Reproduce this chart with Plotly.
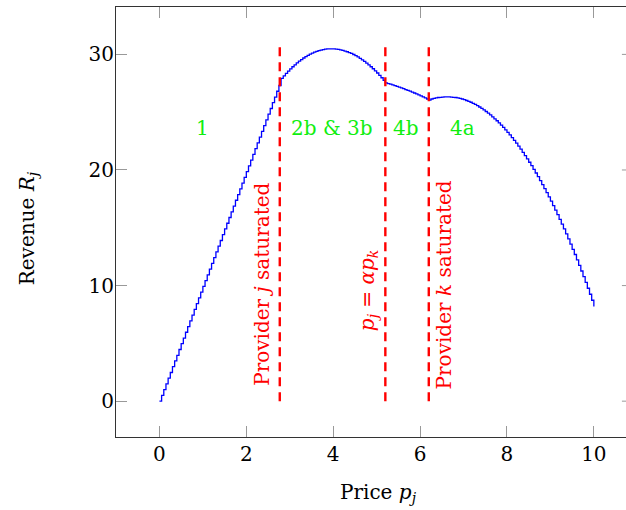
''' Revenue of provider j against its price, with the regime boundaries marked '''

import plotly.graph_objects as go

# Price grid (step 0.05) and the revenue
price = [round(0.05 * i, 2) for i in range(201)]
revenue = [
    # region 1 (0.00 - 2.75)
    0.0, 0.50, 0.99, 1.49, 1.99, 2.48, 2.98, 3.48, 3.97, 4.47,
    4.97, 5.46, 5.96, 6.45, 6.95, 7.45, 7.94, 8.44, 8.94, 9.43,
    9.93, 10.43, 10.92, 11.42, 11.92, 12.41, 12.91, 13.41, 13.90, 14.40,
    14.90, 15.39, 15.89, 16.38, 16.88, 17.38, 17.87, 18.37, 18.87, 19.36,
    19.86, 20.36, 20.85, 21.35, 21.85, 22.34, 22.84, 23.34, 23.83, 24.33,
    24.83, 25.32, 25.82, 26.31, 26.81, 27.31,
    # regions 2b & 3b (2.80 - 5.20)
    27.93, 28.15, 28.36, 28.56, 28.75, 28.93, 29.10, 29.26, 29.41, 29.54,
    29.69, 29.81, 29.92, 30.02, 30.11, 30.19, 30.26, 30.32, 30.37, 30.42,
    30.45, 30.47, 30.48, 30.48, 30.47, 30.45, 30.43, 30.39, 30.35, 30.29,
    30.23, 30.16, 30.08, 29.99, 29.89, 29.78, 29.66, 29.53, 29.40, 29.25,
    29.10, 28.93, 28.76, 28.58, 28.39, 28.18, 27.98, 27.76, 27.53,
    # region 4b (5.25 - 6.20)
    27.47, 27.42, 27.36, 27.30, 27.24, 27.17, 27.10, 27.03, 26.96, 26.89,
    26.82, 26.74, 26.66, 26.58, 26.50, 26.41, 26.32, 26.23, 26.14, 26.05,
    # region 4a (6.25 - 10.00)
    26.14, 26.19, 26.23, 26.27, 26.29, 26.31, 26.33, 26.33, 26.33, 26.31,
    26.29, 26.27, 26.23, 26.19, 26.14, 26.08, 26.01, 25.94, 25.86, 25.77,
    25.67, 25.56, 25.45, 25.33, 25.20, 25.06, 24.92, 24.76, 24.60, 24.43,
    24.26, 24.07, 23.88, 23.68, 23.47, 23.26, 23.03, 22.80, 22.56, 22.32,
    22.06, 21.80, 21.53, 21.25, 20.96, 20.67, 20.37, 20.06, 19.74, 19.42,
    19.08, 18.74, 18.39, 18.04, 17.67, 17.30, 16.92, 16.53, 16.13, 15.73,
    15.32, 14.90, 14.47, 14.04, 13.59, 13.14, 12.69, 12.22, 11.74, 11.26,
    10.77, 10.27, 9.77, 9.25, 8.73, 8.20,
]

# Vertical boundaries (price) and their rotated labels
boundary_x = [2.77, 5.2, 6.2]
boundary_top = 31
boundary_labels = ['Provider <i>j</i> saturated',
                   '<i>p<sub>j</sub></i> = <i>αp<sub>k</sub></i>',
                   'Provider <i>k</i> saturated']
boundary_label_pos = [(2.37, 10.1), (4.8, 9.6), (6.55, 10.1)]

# Region names
region_labels = ['1', '2b &amp; 3b', '4b', '4a']
region_x = [0.99, 3.98, 5.68, 6.97]
region_y = 23.6

x_ticks = [0, 2, 4, 6, 8, 10]
y_ticks = [0, 10, 20, 30]

FONT = 'DejaVu Serif'
FSIZE = 20
RED = '#ff0000'
GREEN = '#10ee10'

fig = go.Figure()

# Revenue curve drawn as a staircase
fig.add_trace(go.Scatter(
    x=price, y=revenue, mode='lines',
    line=dict(color='#0000ff', width=1.3, shape='hv'),
    showlegend=False, hoverinfo='skip'
))

# Dashed red boundaries
for bx in boundary_x:
    fig.add_shape(type='line', xref='x', yref='y', x0=bx, x1=bx, y0=0, y1=boundary_top,
                  line=dict(color=RED, width=2.4, dash='9px,6px'))

for text, (ax, ay) in zip(boundary_labels, boundary_label_pos):
    fig.add_annotation(x=ax, y=ay, xref='x', yref='y', text=text, textangle=-90,
                       xanchor='center', yanchor='middle',
                       showarrow=False, font=dict(family=FONT, size=FSIZE, color=RED))

for text, rx in zip(region_labels, region_x):
    fig.add_annotation(x=rx, y=region_y, xref='x', yref='y', text=text,
                       xanchor='center', yanchor='middle',
                       showarrow=False, font=dict(family=FONT, size=FSIZE, color=GREEN))

# Axis titles placed by hand
fig.add_annotation(x=0.514, y=-0.13, xref='paper', yref='paper', text='Price <i>p<sub>j</sub></i>',
                   xanchor='center', yanchor='middle',
                   showarrow=False, font=dict(family=FONT, size=FSIZE, color='black'))
fig.add_annotation(x=-0.172, y=0.486, xref='paper', yref='paper', text='Revenue <i>R<sub>j</sub></i>',
                   xanchor='center', yanchor='middle',
                   textangle=-90, showarrow=False, font=dict(family=FONT, size=FSIZE, color='black'))

# Small tick stubs of the clipped right-hand axis
for yt in y_ticks:
    fig.add_shape(type='line', xref='paper', yref='y', x0=0.992, x1=1.0, y0=yt, y1=yt,
                  line=dict(color='#999999', width=1))

fig.update_layout(
    width=626, height=510,
    margin=dict(l=116, r=0, t=7, b=73),
    paper_bgcolor='white', plot_bgcolor='white',
    font=dict(family=FONT, size=FSIZE, color='black'),
    showlegend=False,
    xaxis=dict(
        range=[-1, 10.74], tickvals=x_ticks, ticks='inside', ticklen=11, tickcolor='#999999',
        tickwidth=1, showline=True, linecolor='#333333', linewidth=1, mirror='ticks',
        showgrid=False, zeroline=False, ticklabelstandoff=-1, automargin=False,
    ),
    yaxis=dict(
        range=[-3.1, 34.1], tickvals=y_ticks, ticks='inside', ticklen=11, tickcolor='#999999',
        tickwidth=1, showline=True, linecolor='#333333', linewidth=1,
        showgrid=False, zeroline=False, ticklabelstandoff=-3, automargin=False,
    ),
)

# Drop the page's default body margin so the figure sits at the window corner
fig.write_html('out.html', config={'displayModeBar': False},
               post_script="document.body.style.margin='0';")
